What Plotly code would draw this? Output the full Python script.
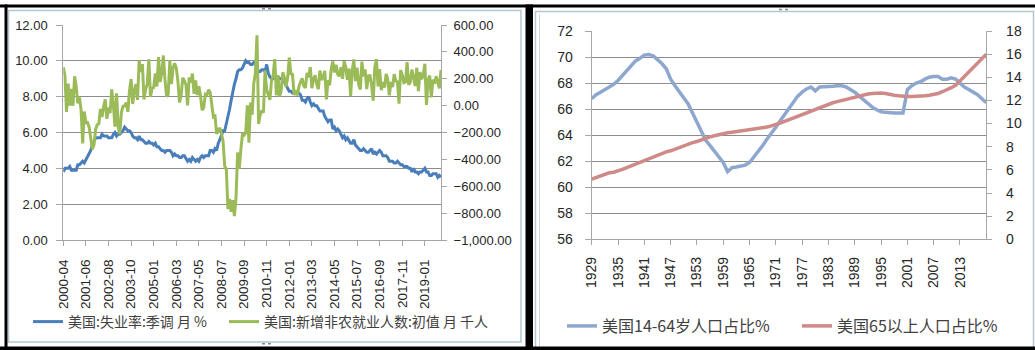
import plotly.graph_objects as go

# ---------------- data: left chart (monthly, 2000-04 .. 2019-11, 2004-06 absent) ----------------
START_YEAR, START_MONTH = 2000, 4
END_YEAR, END_MONTH = 2019, 11
MISSING_MONTHS = ["2004-06"]

unemployment_rate = [
    3.8, 4.0, 4.0, 4.0, 4.1, 3.9, 3.9, 3.9, 3.9,
    4.2, 4.2, 4.3, 4.4, 4.3, 4.5, 4.6, 4.9, 5.0, 5.3, 5.5, 5.7,
    5.7, 5.7, 5.7, 5.9, 5.8, 5.8, 5.8, 5.7, 5.7, 5.7, 5.9, 6.0,
    5.8, 5.9, 5.9, 6.0, 6.1, 6.3, 6.2, 6.1, 6.1, 6.0, 5.8, 5.7,
    5.7, 5.6, 5.8, 5.6, 5.6, 5.5, 5.4, 5.4, 5.5, 5.4, 5.4,
    5.3, 5.4, 5.2, 5.2, 5.1, 5.0, 5.0, 4.9, 5.0, 5.0, 5.0, 4.9,
    4.7, 4.8, 4.7, 4.7, 4.6, 4.6, 4.7, 4.7, 4.5, 4.4, 4.5, 4.4,
    4.6, 4.5, 4.4, 4.5, 4.4, 4.6, 4.7, 4.6, 4.7, 4.7, 4.7, 5.0,
    5.0, 4.9, 5.1, 5.0, 5.4, 5.6, 5.8, 6.1, 6.1, 6.5, 6.8, 7.3,
    7.8, 8.3, 8.7, 9.0, 9.4, 9.5, 9.5, 9.6, 9.8, 10.0, 9.9, 9.9,
    9.8, 9.8, 9.9, 9.9, 9.6, 9.4, 9.4, 9.5, 9.5, 9.4, 9.8, 9.3,
    9.1, 9.0, 9.0, 9.1, 9.0, 9.1, 9.0, 9.0, 9.0, 8.8, 8.6, 8.5,
    8.3, 8.3, 8.2, 8.2, 8.2, 8.2, 8.2, 8.1, 7.8, 7.8, 7.7, 7.9,
    8.0, 7.7, 7.5, 7.6, 7.5, 7.5, 7.3, 7.2, 7.2, 7.2, 6.9, 6.7,
    6.6, 6.7, 6.7, 6.2, 6.3, 6.1, 6.2, 6.1, 5.9, 5.7, 5.8, 5.6,
    5.7, 5.5, 5.4, 5.4, 5.6, 5.3, 5.2, 5.1, 5.0, 5.0, 5.1, 5.0,
    4.9, 4.9, 5.0, 5.1, 4.8, 4.9, 4.8, 4.9, 5.0, 4.9, 4.7, 4.7,
    4.7, 4.6, 4.4, 4.4, 4.4, 4.3, 4.3, 4.4, 4.3, 4.2, 4.2, 4.1,
    4.1, 4.1, 4.0, 4.0, 3.8, 4.0, 3.8, 3.8, 3.7, 3.8, 3.8, 3.9,
    4.0, 3.8, 3.8, 3.6, 3.6, 3.7, 3.7, 3.7, 3.5, 3.6, 3.5,
]

nonfarm_payrolls = [
    286, 224, -46, 164, 0, 125, -1, 218, 143,
    16, 61, -29, -281, -44, -128, -125, -160, -244, -325, -292, -178,
    -142, -135, -24, -85, -7, 47, -98, -14, -56, 121, 8, -157,
    91, -159, -212, -49, -6, -1, 22, -46, 109, 198, 12, 115,
    159, 43, 337, 250, 310, 46, 121, 160, 345, 65, 130,
    135, 240, 142, 362, 175, 244, 373, 193, 67, 84, 337, 160,
    277, 315, 280, 182, 23, 77, 207, 184, 157, 2, 210, 171,
    238, 88, 188, 78, 144, 71, -33, -16, 85, 82, 118, 97,
    17, -84, -78, -210, -185, -165, -209, -266, -452, -473, -769, -695,
    -791, -703, -823, -687, -349, -471, -329, -213, -220, -204, 2, -275,
    23, -68, 164, 243, 524, -137, -68, -36, -52, 262, 119, 87,
    43, 189, 225, 346, 77, 225, 69, 110, 248, 209, 141, 209,
    358, 237, 233, 78, 115, 76, 143, 177, 203, 146, 132, 244,
    211, 286, 130, 197, 226, 162, 122, 261, 190, 212, 258, 47,
    190, 151, 272, 329, 246, 304, 232, 218, 286, 200, 331, 286,
    192, 276, 70, 261, 344, 183, 283, 157, 120, 327, 217, 269,
    123, 222, 223, 151, 37, 286, 346, 143, 272, 115, 176, 134,
    235, 197, 77, 176, 139, 234, 183, 178, 14, 264, 228, 171,
    176, 324, 155, 175, 268, 208, 147, 282, 108, 250, 196, 227,
    311, 5, 189, 224, 62, 193, 164, 219, 180, 128, 266,
]

left_tick_labels = ["2000-04", "2001-06", "2002-08", "2003-10", "2005-01", "2006-03",
                    "2007-05", "2008-07", "2009-09", "2010-11", "2012-01", "2013-03",
                    "2014-05", "2015-07", "2016-09", "2017-11", "2019-01"]

# ---------------- data: right chart (annual, 1929 .. 2019) ----------------
years = list(range(1929, 2020))

share_14_64 = [
    66.8, 67.1, 67.3, 67.5, 67.7, 67.9, 68.2, 68.6, 69.0, 69.4,
    69.7, 69.9, 70.15, 70.2, 70.1, 69.8, 69.5, 69.1, 68.3, 67.8,
    67.3, 66.9, 66.4, 65.7, 65.0, 64.2, 63.6, 63.2, 62.8, 62.4,
    61.9, 61.2, 61.5, 61.55, 61.6, 61.7, 61.9, 62.3, 62.7, 63.2,
    63.7, 64.1, 64.6, 65.1, 65.6, 66.1, 66.6, 67.0, 67.3, 67.55,
    67.7, 67.4, 67.7, 67.7, 67.7, 67.75, 67.8, 67.8, 67.7, 67.5,
    67.3, 67.0, 66.7, 66.4, 66.15, 65.95, 65.8, 65.75, 65.7, 65.7,
    65.7, 65.7, 67.5, 67.8, 68.0, 68.1, 68.3, 68.45, 68.5, 68.5,
    68.3, 68.3, 68.4, 68.3, 68.0, 67.7, 67.5, 67.3, 67.1, 66.8,
    66.5,
]

share_65_plus = [
    5.2, 5.35, 5.5, 5.65, 5.75, 5.8, 5.9, 6.05, 6.2, 6.35,
    6.5, 6.7, 6.85, 6.95, 7.1, 7.25, 7.4, 7.55, 7.65, 7.8,
    7.95, 8.1, 8.25, 8.35, 8.45, 8.6, 8.75, 8.85, 8.95, 9.05,
    9.15, 9.2, 9.25, 9.3, 9.35, 9.4, 9.45, 9.5, 9.55, 9.6,
    9.7, 9.8, 9.9, 10.05, 10.2, 10.35, 10.5, 10.65, 10.8, 10.95,
    11.1, 11.25, 11.4, 11.5, 11.65, 11.8, 11.9, 12.0, 12.1, 12.2,
    12.3, 12.4, 12.5, 12.55, 12.6, 12.65, 12.65, 12.6, 12.5, 12.45,
    12.4, 12.35, 12.35, 12.35, 12.35, 12.35, 12.4, 12.45, 12.5, 12.6,
    12.75, 12.9, 13.1, 13.3, 13.7, 14.1, 14.5, 14.9, 15.3, 15.6,
    16.0,
]

right_tick_years = list(range(1929, 2014, 6))

# ---------------- build month categories ----------------
months = []
y, m = START_YEAR, START_MONTH
while (y, m) <= (END_YEAR, END_MONTH):
    lab = f"{y}-{m:02d}"
    if lab not in MISSING_MONTHS:
        months.append(lab)
    m += 1
    if m > 12:
        m, y = 1, y + 1

# ---------------- figure ----------------
W, H = 1035, 350
def px(x):
    return x / W
def py(yv):
    return 1 - yv / H

BLUE = "#4A7EBB"
GREEN = "#9BBB59"
BLUE2 = "#8EA7CF"
RED2 = "#CF8A88"
GRID = "#8C8C8C"
AXIS = "#A6A6A6"
TXT = "#262626"
FONT = "Liberation Sans, Arial, Noto Sans CJK SC, sans-serif"
CJK = "Noto Sans CJK SC, sans-serif"

fig = go.Figure()
fig.add_trace(go.Scatter(x=months, y=unemployment_rate, mode="lines",
                         name="美国:失业率:季调 月 %", line=dict(color=BLUE, width=3),
                         xaxis="x", yaxis="y", legend="legend"))
fig.add_trace(go.Scatter(x=months, y=nonfarm_payrolls, mode="lines",
                         name="美国:新增非农就业人数:初值 月 千人", line=dict(color=GREEN, width=3),
                         xaxis="x", yaxis="y2", legend="legend2"))
fig.add_trace(go.Scatter(x=years, y=share_14_64, mode="lines",
                         name="美国14-64岁人口占比%", line=dict(color=BLUE2, width=3.5),
                         xaxis="x2", yaxis="y3", legend="legend3"))
fig.add_trace(go.Scatter(x=years, y=share_65_plus, mode="lines",
                         name="美国65以上人口占比%", line=dict(color=RED2, width=3.5),
                         xaxis="x2", yaxis="y4", legend="legend4"))

common_y = dict(showgrid=False, zeroline=False, showline=True, linecolor=AXIS, linewidth=1,
                ticks="outside", ticklen=5, tickcolor=AXIS)

def leg(x, yv, size):
    return dict(orientation="h", x=px(x), y=py(yv), xanchor="left", yanchor="middle",
                font=dict(family=CJK, size=size, color="#404040"),
                bgcolor="rgba(0,0,0,0)", itemwidth=30)

fig.update_layout(
    width=W, height=H,
    margin=dict(l=0, r=0, t=0, b=0, autoexpand=False),
    paper_bgcolor="white", plot_bgcolor="white",
    font=dict(family=FONT, color=TXT),
    showlegend=True,
    xaxis=dict(domain=[px(63.3), px(441)], anchor="y", type="category",
               categoryorder="array", categoryarray=months,
               range=[0, len(months) - 1], tickmode="array", tickvals=left_tick_labels,
               ticktext=left_tick_labels, tickangle=-90, tickfont=dict(size=13.5),
               showline=True, linecolor=AXIS, ticks="outside", ticklen=5, tickcolor=AXIS,
               showgrid=False, zeroline=False, ticklabelstandoff=8),
    yaxis=dict(domain=[py(240), py(25)], anchor="x", range=[0, 12], dtick=2,
               tickformat=".2f", tickfont=dict(size=13), showgrid=True, gridcolor=GRID,
               gridwidth=1, zeroline=False, showline=True, linecolor=AXIS,
               ticks="outside", ticklen=6, tickcolor=AXIS, ticklabelstandoff=6),
    yaxis2=dict(overlaying="y", side="right", anchor="x", range=[-1000, 600], dtick=200,
                tickformat=",.2f", tickfont=dict(size=13), ticklabelstandoff=4, **common_y),
    xaxis2=dict(domain=[px(591.7), px(986.3)], anchor="y3", range=[1929, 2019],
                tickmode="array", tickvals=right_tick_years,
                ticktext=[str(v) for v in right_tick_years], tickangle=-90,
                tickfont=dict(size=14), showline=True, linecolor=AXIS, ticks="outside",
                ticklen=5, tickcolor=AXIS, showgrid=False, zeroline=False,
                ticklabelstandoff=6),
    yaxis3=dict(domain=[py(239.3), py(31)], anchor="x2", range=[56, 72], dtick=2,
                tickfont=dict(size=14), showgrid=True, gridcolor=GRID, gridwidth=1,
                zeroline=False, showline=True, linecolor=AXIS, ticks="outside",
                ticklen=6, tickcolor=AXIS, ticklabelstandoff=9),
    yaxis4=dict(overlaying="y3", side="right", anchor="x2", range=[0, 18], dtick=2,
                tickfont=dict(size=14), ticklabelstandoff=11, **common_y),
    legend=leg(28, 322, 14),
    legend2=leg(224, 322, 14),
    legend3=leg(562, 326, 16),
    legend4=leg(797, 326, 16),
)

shapes = []
# light panel frames
shapes.append(dict(type="rect", xref="paper", yref="paper", x0=px(8.5), x1=px(521),
                   y0=py(342), y1=py(10.5), line=dict(color="#B4C6D2", width=1.5)))
shapes.append(dict(type="rect", xref="paper", yref="paper", x0=px(535.5), x1=px(1033.5),
                   y0=py(348), y1=py(11.5), line=dict(color="#B4C6D2", width=1.5)))
shapes.append(dict(type="line", xref="paper", yref="paper", x0=px(539.5), x1=px(539.5),
                   y0=py(348), y1=py(14), line=dict(color="#C9D7E0", width=1)))
# small resize handles on the frames
for (hx, hy) in [(262, 8.8), (262, 343.8), (779, 9.5)]:
    shapes.append(dict(type="line", xref="paper", yref="paper", x0=px(hx), x1=px(hx + 10),
                       y0=py(hy), y1=py(hy), line=dict(color="#8A8A8A", width=1.5, dash="dot")))
# black screenshot borders
for (x0, x1, y0, y1) in [(0, 1035, 4.5, 7.5), (0, 1035, 346.5, 350), (4.5, 7.5, 4.5, 350),
                         (525.5, 533, 4.5, 350)]:
    shapes.append(dict(type="rect", xref="paper", yref="paper", x0=px(x0), x1=px(x1),
                       y0=py(y1), y1=py(y0), line=dict(width=0), fillcolor="black"))
fig.update_layout(shapes=shapes)

fig.write_html("out.html")
